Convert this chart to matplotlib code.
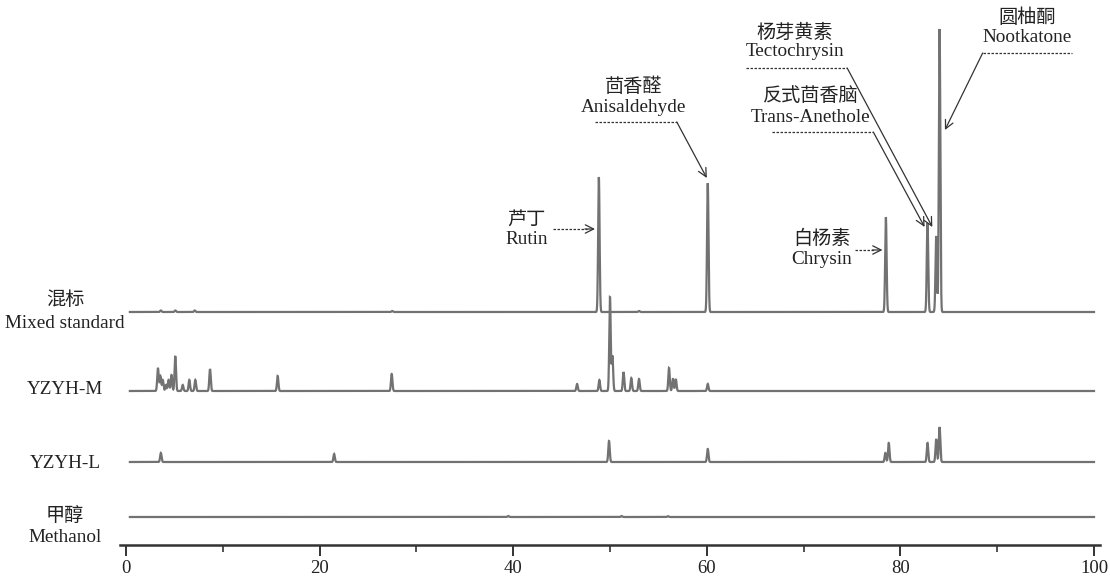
import numpy as np
import matplotlib
matplotlib.use("Agg")
import matplotlib.pyplot as plt

plt.rcParams['font.family'] = ['Liberation Serif', 'Noto Sans CJK SC', 'DejaVu Sans']

# ---- data (retention time, peak height) ----
sample_cn = ["混标", "", "", "甲醇"]
sample_en = ["Mixed standard", "YZYH-M", "YZYH-L", "Methanol"]

mix_rt = [3.6, 5.1, 7.1, 27.5, 48.85, 53.0, 60.1, 78.5, 82.8, 83.7, 84.05]
mix_h  = [1.5, 1.5, 1.5, 1.0, 135, 1.0, 129, 95, 89, 76, 283]

m_rt = [3.3, 3.55, 3.8, 4.13, 4.4, 4.7, 5.09, 5.86, 6.54, 7.16, 8.68,
        15.67, 27.45, 46.6, 48.9, 50.0, 50.25, 51.4, 52.2, 53.0,
        56.1, 56.5, 56.8, 60.1]
m_h  = [23, 15, 11, 6, 11, 16, 35, 6, 11, 11, 22,
        15, 17, 7, 11, 94, 35, 19, 13, 12,
        23, 12, 12, 7]

l_rt = [3.6, 21.5, 49.9, 60.1, 78.45, 78.8, 82.8, 83.7, 84.05]
l_h  = [9, 8, 21, 13, 9, 19, 19, 23, 35]

meoh_rt = [39.5, 51.2, 56.0]
meoh_h  = [1.0, 1.0, 0.8]

baselines = [233, 154, 83, 28]
label_y = [(245, 222), (None, 155), (None, 82), (29, 7)]
peak_sets = [(mix_rt, mix_h), (m_rt, m_h), (l_rt, l_h), (meoh_rt, meoh_h)]

t = np.linspace(0.4, 100.0, 8000)
sigma = 0.075


def trace(rts, hs):
    y = np.zeros_like(t)
    for r, h in zip(rts, hs):
        y += h * np.exp(-0.5 * ((t - r) / sigma) ** 2)
    return y


fig = plt.figure(figsize=(11.1, 5.77), dpi=100)
ax = fig.add_axes([120.2 / 1110, 32 / 577, 979.6 / 1110, 545 / 577])
ax.set_xlim(-0.6, 100.6)
ax.set_ylim(0, 545)

line_col = '#727272'
for (rts, hs), b in zip(peak_sets, baselines):
    ax.plot(t, b + trace(rts, hs), color=line_col, lw=1.6, solid_joinstyle='miter')

# axis styling
for s in ['top', 'right', 'left']:
    ax.spines[s].set_visible(False)
ax.spines['bottom'].set_linewidth(1.8)
ax.spines['bottom'].set_color('#333333')
ax.set_yticks([])
ax.set_xticks([0, 20, 40, 60, 80, 100])
ax.set_xticks([10, 30, 50, 70, 90], minor=True)
ax.tick_params(axis='x', which='major', length=8, width=1.4, color='#333333',
               labelsize=13.5, labelcolor='#222222', pad=3)
ax.tick_params(axis='x', which='minor', length=5, width=1.2, color='#333333')

# sample labels on the left
lab_x = -6.3
txt_kw = dict(ha='center', va='center', fontsize=13.8, color='#222222', clip_on=False)
for (cn, en), (ycn, yen) in zip(zip(sample_cn, sample_en), label_y):
    if cn:
        ax.text(lab_x, ycn, cn, **txt_kw)
    ax.text(lab_x, yen, en, **txt_kw)

# peak annotations
ann_col = '#333333'
dash = (0, (2.0, 1.2))
arrow_kw = dict(arrowstyle='->,head_length=0.6,head_width=0.3', color=ann_col,
                lw=0.9, shrinkA=0, shrinkB=0, mutation_scale=10)


def label(x, y_cn, y_en, cn, en):
    ax.text(x, y_cn, cn, **txt_kw)
    ax.text(x, y_en, en, **txt_kw)


# Rutin
label(41.4, 325, 305, "芦丁", "Rutin")
ax.plot([44.1, 47.6], [316, 316], color=ann_col, lw=0.9, ls=dash)
ax.annotate("", xy=(48.45, 316), xytext=(47.4, 316), arrowprops=arrow_kw)

# Anisaldehyde
label(52.4, 458, 438, "茴香醛", "Anisaldehyde")
ax.plot([48.5, 56.9], [423, 423], color=ann_col, lw=0.9, ls=dash)
ax.annotate("", xy=(60.0, 367), xytext=(56.9, 423), arrowprops=arrow_kw)

# Chrysin
label(71.9, 306, 286, "白杨素", "Chrysin")
ax.plot([75.3, 77.3], [295, 295], color=ann_col, lw=0.9, ls=dash)
ax.annotate("", xy=(78.15, 295), xytext=(77.1, 295), arrowprops=arrow_kw)

# Tectochrysin
label(69.1, 512, 493, "杨芽黄素", "Tectochrysin")
ax.plot([64.1, 74.5], [477, 477], color=ann_col, lw=0.9, ls=dash)
ax.annotate("", xy=(83.3, 318), xytext=(74.5, 477), arrowprops=arrow_kw)

# Trans-Anethole
label(70.7, 448, 428, "反式茴香脑", "Trans-Anethole")
ax.plot([66.7, 77.2], [413, 413], color=ann_col, lw=0.9, ls=dash)
ax.annotate("", xy=(82.5, 318), xytext=(77.2, 413), arrowprops=arrow_kw)

# Nootkatone
label(93.1, 527, 507, "圆柚酮", "Nootkatone")
ax.plot([88.5, 97.7], [492, 492], color=ann_col, lw=0.9, ls=dash)
ax.annotate("", xy=(84.6, 415), xytext=(88.5, 492), arrowprops=arrow_kw)

fig.savefig("out.png", dpi=100)
